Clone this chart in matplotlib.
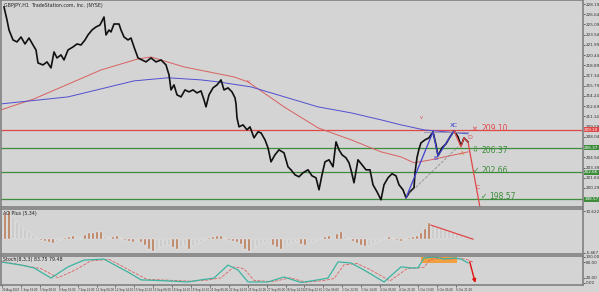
import matplotlib.pyplot as plt
import numpy as np

# ---- price (bar index, close) ----
bar_x = [3, 6, 8, 12, 16, 20, 24, 28, 32, 35, 37, 42, 46, 50, 53, 56, 60, 63, 67, 72,
         76, 80, 84, 87, 91, 95, 99, 103, 105, 108, 110, 113, 118, 120, 123, 127, 130, 133, 137, 141,
         145, 150, 155, 160, 165, 168, 170, 173, 176, 180, 184, 188, 192, 196, 200, 203, 205, 208, 212, 216,
         220, 223, 227, 231, 234, 235, 236, 238, 242, 246, 249, 253, 257, 260, 264, 267, 270, 274, 278, 283,
         287, 290, 294, 298, 302, 307, 311, 315, 318, 321, 324, 328, 332, 335, 338, 341, 345, 348, 350, 353,
         357, 361, 365, 369, 372, 376, 380, 383, 387, 391, 395, 398, 402, 405, 409, 413, 414, 416, 418, 420,
         424, 428, 432, 435, 437, 441, 445, 449, 453, 457, 460, 463, 467]
close = [227.74, 225.77, 224.25, 222.74, 222.44, 223.19, 222.13, 223.04, 221.98, 221.22,
         219.25, 218.95, 219.41, 218.50, 220.92, 220.01, 220.47, 219.71, 221.22, 221.68,
         222.13, 221.98, 222.74, 223.50, 224.25, 224.71, 225.01, 226.22, 223.50, 224.25,
         223.95, 225.16, 225.16, 224.25, 223.19, 222.74, 223.04, 221.68, 220.01, 219.71,
         219.41, 220.01, 219.41, 219.71, 218.95, 217.44, 215.16, 215.92, 214.41, 214.10,
         215.16, 214.86, 215.16, 214.71, 215.01, 213.65, 212.59, 214.41, 215.47, 215.92,
         216.68, 215.16, 215.47, 214.86, 213.95, 213.04, 210.92, 209.56, 209.86, 209.10,
         209.56, 207.89, 208.80, 208.65, 207.59, 206.38, 204.25, 205.32, 206.07, 205.62,
         203.50, 203.04, 202.28, 201.98, 202.59, 203.04, 202.13, 201.83, 200.01, 202.28,
         204.25, 204.56, 203.50, 207.28, 206.07, 205.32, 204.86, 204.10, 203.04, 201.07,
         204.56, 203.80, 203.04, 203.04, 200.77, 199.71, 198.50, 200.77, 201.83, 202.44,
         202.13, 200.77, 200.01, 198.80, 199.71, 200.31, 202.60, 204.90, 206.20, 207.13,
         207.59, 207.89, 208.80, 206.83, 205.16, 206.38, 206.98, 208.04, 208.95, 208.04,
         206.68, 207.89, 207.28]

# moving averages
ma_red_x = [0, 33, 70, 100, 137, 150, 183, 233, 247, 283, 317, 350, 380, 400, 413, 430, 463, 467]
ma_red = [212.13, 213.80, 216.22, 218.19, 219.86, 220.16, 218.65, 217.13, 216.38, 212.59,
          209.41, 207.59, 205.77, 205.00, 204.10, 204.56, 205.62, 205.77]
ma_blue_x = [0, 67, 133, 167, 200, 217, 250, 317, 350, 380, 400, 423, 467]
ma_blue = [213.04, 214.10, 216.53, 217.00, 216.68, 216.38, 215.62, 212.59, 211.68, 210.62,
           209.86, 209.10, 208.50]

# horizontal levels
lvl_red = 209.10
lvl_green = [206.37, 202.66, 198.57]

# harmonic pattern points
xabc_x = [405, 432, 437, 453]
xabc_y = [198.80, 208.80, 205.16, 208.95]
cd_x = [453, 460, 463, 467, 479]
cd_y = [208.95, 206.53, 207.89, 207.28, 197.30]

price_ticks = [228.19, 226.64, 225.09, 223.54, 221.99, 220.44, 218.89, 217.34, 215.79, 214.24,
               212.69, 211.14, 209.59, 208.04, 204.94, 203.39, 201.84, 200.29]

# ---- AO histogram ----
ao_x = list(range(0, 464, 4))
ao = [3.8, 9.5, 10.6, 8.4, 6.5, 4.9, 3.8, 2.7, 1.5, 0.4, -0.4, -0.8, -1.1, -1.5, -1.1, -0.4,
      0.4, 0.8, 1.1, 0.8, 0.4, 1.5, 2.3, 2.3, 2.7, 2.7, 1.1, 0.4, 0.8, 1.1, 0.4, -0.4,
      -0.8, -1.1, -0.8, -1.1, -2.3, -3.8, -4.6, -4.2, -3.4, -3.0, -2.3, -3.4, -3.8, -3.4,
      -3.0, -3.8, -2.7, -1.9, -1.1, -0.4, 0.4, 0.8, 1.1, 1.1, 0.4, -0.4, -0.8, -1.1,
      -1.9, -3.8, -4.6, -4.2, -3.0, -1.9, -1.5, -1.1, -2.3, -3.4, -3.8, -3.0, -1.9, -1.5,
      -1.1, -1.9, -2.3, -1.5, -1.1, -0.8, 0.4, 0.8, 1.1, 0.8, 1.9, 2.7, 1.1, 0.4,
      -0.8, -1.5, -2.3, -3.0, -2.7, -1.9, -1.1, -0.8, 0.4, 0.8, 0.4, -0.4, -0.8, -0.4,
      0.4, 0.8, 1.1, 2.3, 3.8, 6.1, 5.3, 4.6, 3.8, 3.4, 3.0, 2.7, 2.3, 1.5]

# ---- stochastic ----
st_x = [0, 20, 33, 50, 67, 83, 103, 110, 127, 140, 167, 187, 200, 213, 227, 237, 247, 267,
        283, 300, 317, 327, 337, 350, 363, 383, 400, 410, 417, 423, 433, 443, 453, 460, 467]
st_main = [81, 69, 58, 19, 62, 88, 92, 77, 42, 12, 8, 4, 12, 19, 69, 50, 4, 4,
           23, 2, 12, 19, 81, 77, 50, 4, 62, 58, 58, 96, 100, 92, 96, 92, 77]
sig_x = [0, 8, 25, 40, 57, 73, 90, 108, 116, 133, 146, 172, 190, 206, 220, 233, 243, 253,
         272, 289, 305, 322, 333, 343, 356, 369, 389, 406, 416, 423, 429, 439, 449, 459, 466, 472]
st_sig = [84, 78, 66, 55, 20, 48, 85, 91, 75, 40, 14, 10, 7, 11, 20, 62, 55, 10,
          5, 20, 3, 9, 17, 70, 75, 52, 8, 55, 58, 60, 90, 97, 92, 95, 90, 80]

date_labels = ["30 Aug 2023", "1 Sep 16:00", "5 Sep 08:00", "6 Sep 16:00", "7 Sep 22:00",
               "11 Sep 06:00", "12 Sep 14:00", "13 Sep 22:00", "15 Sep 06:00", "18 Sep 14:00",
               "19 Sep 22:00", "21 Sep 06:00", "22 Sep 14:00", "25 Sep 22:00", "27 Sep 06:00",
               "28 Sep 14:00", "29 Sep 22:00", "2 Oct 06:00", "2 Oct 22:00", "3 Oct 14:00",
               "4 Oct 05:00", "4 Oct 21:00", "5 Oct 13:00", "6 Oct 05:00", "6 Oct 21:00"]

BG = '#d4d4d4'
FRAME = '#808080'
RED = '#e04848'
GREEN = '#3c8c3c'
BLUE = '#4040d0'
FS = 3.0
NARROW = ['Liberation Sans Narrow', 'DejaVu Sans']

W, H = 599, 292
fig = plt.figure(figsize=(W / 100, H / 100), dpi=100, facecolor=BG)


def panel(top, bottom):
    ax = fig.add_axes([1 / W, (H - bottom) / H, 582 / W, (bottom - top) / H], facecolor=BG)
    ax.set_xlim(0, 582)
    ax.yaxis.tick_right()
    ax.tick_params(axis='y', labelsize=FS, length=1.5, width=0.5, colors='#303030', pad=0.5)
    ax.set_xticks([])
    for s in ax.spines.values():
        s.set_color(FRAME)
        s.set_linewidth(1.2)
    return ax


# main price panel
ax = panel(0, 207)
ax.set_ylim(197.4, 228.8)
ax.set_yticks(price_ticks)
ax.set_yticklabels(['%.2f' % v for v in price_ticks])

ax.axhline(lvl_red, color=RED, lw=0.9)
for lv in lvl_green:
    ax.axhline(lv, color=GREEN, lw=0.9)

ax.plot(ma_red_x, ma_red, color='#d86060', lw=0.7)
ax.plot(ma_blue_x, ma_blue, color='#5050d0', lw=0.7)
ax.plot(bar_x, close, color='#101010', lw=1.2)

# pattern drawings
ax.plot([405, 457], [198.96, 206.53], color='#909090', lw=0.6, ls='--')
ax.plot([423, 467], [208.80, 208.80], color='#9090b0', lw=0.6)
ax.plot(xabc_x, xabc_y, color=BLUE, lw=0.9)
ax.plot(cd_x, cd_y, color=RED, lw=0.9)
ax.text(432, 204.6, 'B', color=BLUE, fontsize=4.5)
ax.text(449, 209.5, 'XC', color=BLUE, fontsize=4.5)
ax.text(459, 205.3, 'A', color='#e07040', fontsize=4.5)
ax.text(466, 207.7, 'D', color=RED, fontsize=4.5)
ax.text(475, 200.2, 'C', color=RED, fontsize=4.5)
ax.text(246, 216.2, 'v', color=RED, fontsize=3.5)
ax.text(419, 210.8, 'v', color=RED, fontsize=3.5)

ax.text(470, 209.1, '\u2715', color=RED, fontsize=5, va='center')
ax.text(480, 209.25, '209.10', color=RED, fontsize=5.5, va='center')
ax.text(471, 205.95, '\u21e9', color=GREEN, fontsize=6, va='center')
ax.text(480, 206.0, '206.37', color=GREEN, fontsize=5.5, va='center')
ax.text(472, 203.0, '\u2713', color=GREEN, fontsize=5.5, va='center')
ax.text(480, 203.0, '202.66', color=GREEN, fontsize=5.5, va='center')
ax.text(480, 198.95, '\u2713', color=GREEN, fontsize=5.5, va='center')
ax.text(488, 198.95, '198.57', color=GREEN, fontsize=5.5, va='center')

ax.text(3, 228.3, 'GBPJPY,H1  TradeStation.com, Inc. (NYSE)', fontsize=3.4, va='top', color='#202020')

ytr = ax.get_yaxis_transform()
for lv, col in [(lvl_red, RED)] + [(g, GREEN) for g in lvl_green]:
    ax.text(1.002, lv, '%.2f' % lv, transform=ytr, fontsize=FS, color='white', va='center',
            bbox=dict(boxstyle='square,pad=0.1', fc=col, ec='none'), clip_on=False, zorder=5)

# AO panel
ax2 = panel(209, 254)
ax2.set_ylim(-5.9, 11.4)
ax2.set_yticks([10.622, -5.467])
ax2.set_yticklabels(['10.622', '-5.467'])
ao_arr = np.array(ao)
grow = np.abs(ao_arr) >= np.abs(np.concatenate([[0], ao_arr[:-1]]))
cols = ['#b87a5a' if g else '#c4c4c4' for g in grow]
ax2.bar(ao_x, ao, width=2.6, color=cols, edgecolor='white', linewidth=0.2)
ax2.plot([430, 472], [5.2, -0.2], color=RED, lw=0.9)
ax2.text(2, 10.8, 'AO Plus (5,34)', fontsize=3.4, va='top', color='#202020')

# stochastic panel
ax3 = panel(256, 285)
ax3.set_ylim(-7.7, 103.8)
ax3.set_yticks([100, 80, 20, 0])
ax3.set_yticklabels(['100.00', '80.00', '20.00', '0.00'])
ax3.add_patch(plt.Rectangle((420, 77), 36, 23, color='#f0a040', lw=0))
ax3.plot(sig_x, st_sig, color='#e06060', lw=0.6, ls='--')
ax3.plot(st_x, st_main, color='#3cb4a0', lw=0.9)
ax3.annotate('', xy=(475, -10), xytext=(468, 92),
             arrowprops=dict(arrowstyle='-|>', color='#e01010', lw=1.0, mutation_scale=5),
             annotation_clip=False)
ax3.text(2, 101, 'Stoch(8,3,3) 83.75 79.48', fontsize=3.4, va='top', color='#202020')

date_pos = np.arange(len(date_labels)) * 18.9 + 1
ax3.set_xticks(date_pos)
ax3.set_xticklabels(date_labels, ha='left', family=NARROW)
ax3.tick_params(axis='x', labelsize=2.0, length=1.5, width=0.5, colors='#303030', pad=0.5)

fig.savefig('out.png', dpi=100, facecolor=BG)
